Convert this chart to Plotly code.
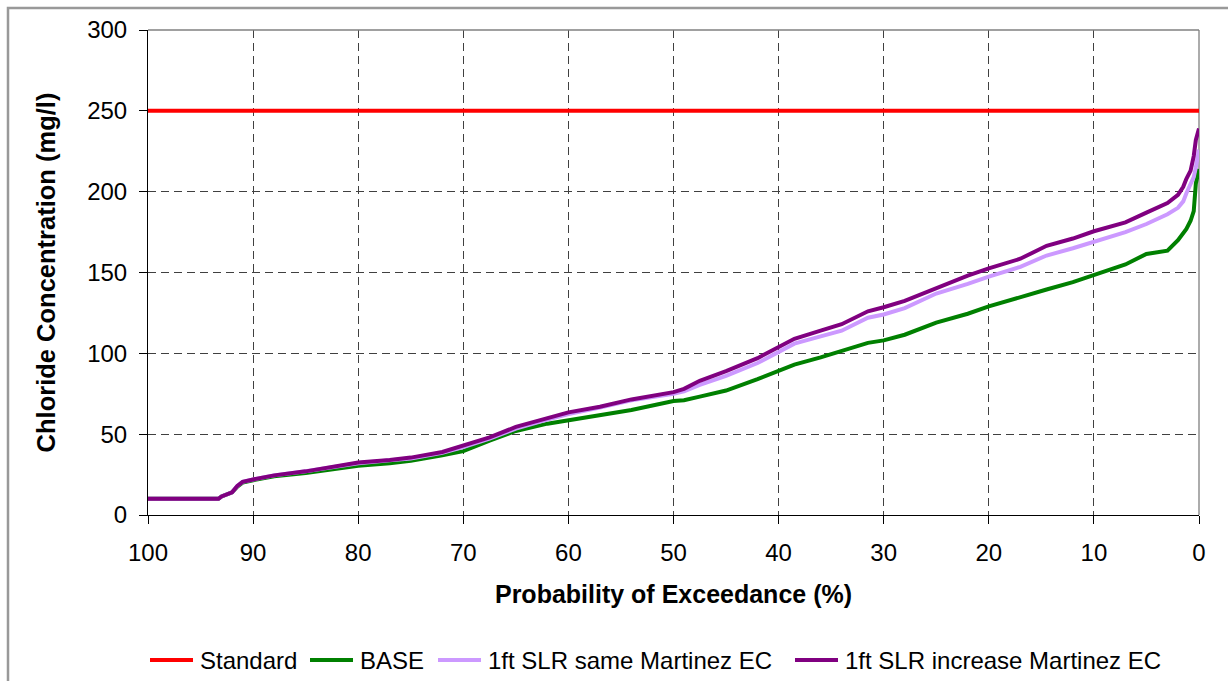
import plotly.graph_objects as go

# Probability of exceedance (%) grid
prob = [100, 93.3, 93, 92.5, 92, 91.5, 91, 90, 88, 85, 82, 80, 77, 75, 72, 70, 67.5, 65, 62,
        60, 57, 54, 50, 49, 47.5, 45, 42, 40, 38.5, 36, 34, 31.5, 30, 28, 25, 22, 20, 17,
        14.5, 12, 10, 7, 5, 3, 2, 1.5, 1.2, 0.8, 0.5, 0.3, 0]

base = [10, 10, 11.5, 12.5, 14, 17.5, 20, 21.5, 24, 26, 28.5, 30.5, 32, 33.5, 37, 39.5, 46, 52, 56.5,
        58.5, 61.5, 65, 70.5, 71, 73.2, 77, 84, 89.5, 93, 97.5, 101.5, 106.5, 108, 111.5, 119, 124.5, 129, 135,
        139.5, 144, 148.5, 155, 161.5, 163.5, 170, 174, 177, 182, 188, 205, 214]

slr_same = [10, 10, 11.5, 12.5, 14, 18, 20.5, 22, 24.5, 27, 30, 32, 33.8, 35, 38.5, 42, 47.3, 53.5, 59,
            62.5, 66.5, 71, 75, 76.5, 80.5, 86, 94, 101, 106, 110.5, 114, 122, 124, 128, 137, 143, 147.5, 153.5,
            160.5, 165, 169, 175, 180, 186, 190, 194, 199, 205, 209, 215, 226]

slr_increase = [10, 10, 11.5, 12.5, 14, 18, 20.5, 22, 24.5, 27, 30, 32.5, 34, 35.5, 39, 43, 48, 54.5, 60,
                63.5, 67, 71.5, 76, 78, 83, 89, 97, 104, 109, 114, 118, 126, 128.5, 132.5, 140.5, 148, 152.5, 158.5,
                166.5, 171, 175.5, 181, 187, 193, 198, 203, 208, 213, 222, 232, 239]

standard_x = [100, 0]
standard_value = 250

x_ticks = [100, 90, 80, 70, 60, 50, 40, 30, 20, 10, 0]
y_ticks = [0, 50, 100, 150, 200, 250, 300]

series_names = ["Standard", "BASE", "1ft SLR same Martinez EC", "1ft SLR increase Martinez EC"]
series_colors = ["#FF0000", "#008000", "#CC99FF", "#800080"]

FONT = "Liberation Sans, Arial, sans-serif"

fig = go.Figure()
series_data = [(standard_x, [standard_value] * len(standard_x)), (prob, base), (prob, slr_same), (prob, slr_increase)]
for (xs, ys), name, color in zip(series_data, series_names, series_colors):
    fig.add_trace(go.Scatter(x=xs, y=ys, mode="lines", name=name,
                             line=dict(color=color, width=4), showlegend=False))

W, H = 1228, 681
L, R, T, B = 148, 29, 30, 166
pw, ph = W - L - R, H - T - B

def px(xp):
    return (xp - L) / pw

def py(yp):
    return (H - B - yp) / ph

# manual legend (Excel-style long line samples)
legend_starts = [150, 310, 438, 795]
legend_y = 660
shapes = [
    dict(type="line", xref="paper", yref="paper", x0=0, x1=1, y0=1, y1=1,
         line=dict(color="#808080", width=1.5), layer="above"),
    dict(type="line", xref="paper", yref="paper", x0=1, x1=1, y0=0, y1=1,
         line=dict(color="#909090", width=1.5), layer="below"),
    dict(type="rect", xref="paper", yref="paper", x0=px(8), x1=px(1240), y0=py(700), y1=py(8),
         line=dict(color="#999999", width=2.5), fillcolor="rgba(0,0,0,0)", layer="below"),
]
annotations = []
for start, name, color in zip(legend_starts, series_names, series_colors):
    shapes.append(dict(type="line", xref="paper", yref="paper", x0=px(start), x1=px(start + 43),
                       y0=py(legend_y), y1=py(legend_y), line=dict(color=color, width=4)))
    annotations.append(dict(text=name, xref="paper", yref="paper", x=px(start + 48), y=py(legend_y),
                            xanchor="left", yanchor="middle", showarrow=False,
                            font=dict(family=FONT, size=24, color="black")))

fig.update_layout(
    width=W, height=H,
    margin=dict(l=L, r=R, t=T, b=B),
    paper_bgcolor="white", plot_bgcolor="white",
    font=dict(family=FONT, size=24, color="black"),
    showlegend=False,
    xaxis=dict(range=[100, 0], tickvals=x_ticks, ticktext=[str(v) for v in x_ticks],
               showgrid=True, gridcolor="#404040", gridwidth=1, griddash="8px,5px",
               showline=True, linecolor="black", linewidth=1,
               ticks="outside", ticklen=8, tickcolor="black", ticklabelstandoff=8,
               zeroline=False, tickfont=dict(size=24),
               title=dict(text="<b>Probability of Exceedance (%)</b>", font=dict(size=25), standoff=20)),
    yaxis=dict(range=[0, 300], tickvals=y_ticks, ticktext=[str(v) for v in y_ticks],
               showgrid=True, gridcolor="#404040", gridwidth=1, griddash="8px,5px",
               showline=True, linecolor="black", linewidth=1,
               ticks="outside", ticklen=8, tickcolor="black", ticklabelstandoff=7,
               zeroline=False, tickfont=dict(size=24),
               title=dict(text="<b>Chloride Concentration (mg/l)</b>", font=dict(size=25.5), standoff=24)),
    shapes=shapes,
    annotations=annotations,
)

fig.write_html("out.html", config={"displayModeBar": False},
               post_script="document.body.style.margin='0px';")
